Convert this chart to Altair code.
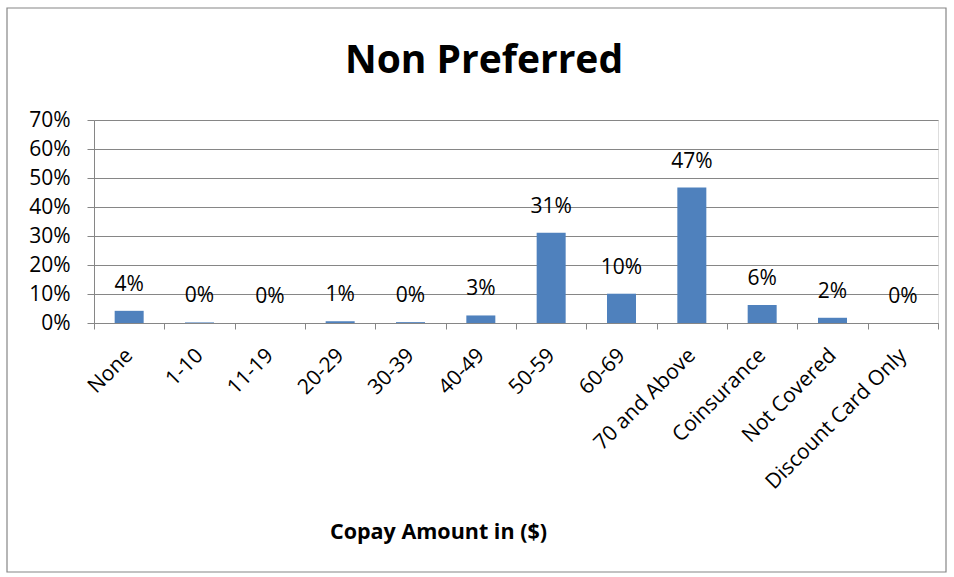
import altair as alt
import pandas as pd

# Share of plans by non-preferred copay bracket
categories = ["None", "1-10", "11-19", "20-29", "30-39", "40-49", "50-59",
              "60-69", "70 and Above", "Coinsurance", "Not Covered",
              "Discount Card Only"]
shares = [0.042, 0.002, 0.0, 0.006, 0.003, 0.026, 0.311, 0.101, 0.467,
          0.062, 0.018, 0.0]
y_ticks = [0, 0.1, 0.2, 0.3, 0.4, 0.5, 0.6, 0.7]
chart_title = "Non Preferred"
x_title = "Copay Amount in ($)"

df = pd.DataFrame({"category": categories, "share": shares})

FONT = "Open Sans"
BAR = "#4F81BD"
GRID = "#868686"
TXT = 21

base = alt.Chart(df).encode(
    x=alt.X(
        "category:N",
        sort=categories,
        scale=alt.Scale(paddingInner=0, paddingOuter=0),
        axis=alt.Axis(
            title=x_title,
            titleFont=FONT, titleFontSize=21.5, titleFontWeight="bold",
            titleColor="black", titleX=344, titleY=209, titleBaseline="middle",
            labelAngle=-45, labelFont=FONT, labelFontSize=TXT,
            labelColor="black", labelAlign="right", labelBaseline="middle",
            labelPadding=23, labelOverlap=False, labelLimit=400,
            tickBand="extent", tickSize=6, tickColor=GRID, domainColor=GRID,
            grid=False,
        ),
    ),
    y=alt.Y(
        "share:Q",
        scale=alt.Scale(domain=[0, 0.7]),
        axis=alt.Axis(
            title=None, values=y_ticks, format=".0%", labelOverlap=False,
            labelFont=FONT, labelFontSize=TXT, labelColor="black",
            labelPadding=17, tickSize=7, tickColor=GRID, domainColor=GRID,
            grid=True, gridColor=GRID,
        ),
    ),
)

bars = base.mark_bar(color=BAR, size=29)

labels = base.mark_text(
    font=FONT, fontSize=TXT, color="black", baseline="middle", dy=-26
).encode(text=alt.Text("share:Q", format=".0%"))

title_df = pd.DataFrame({"label": [chart_title]})
title = alt.Chart(title_df).mark_text(
    font=FONT, fontSize=39, fontWeight="bold", color="black",
    align="center", baseline="alphabetic",
).encode(x=alt.value(390), y=alt.value(-47), text="label:N")

frame = alt.Chart(title_df).mark_rect(
    fill=None, stroke=GRID, strokeWidth=1.2
).encode(
    x=alt.value(-87), x2=alt.value(852), y=alt.value(-112), y2=alt.value(452)
)

chart = alt.layer(bars, labels, title, frame).properties(
    width=844,
    height=203,
    autosize=alt.AutoSizeParams(type="none"),
    padding={"left": 94, "top": 120, "right": 16, "bottom": 254},
).configure_view(stroke=None).configure(background="white")

chart.save("out.html", embed_options={"renderer": "svg", "actions": False})
